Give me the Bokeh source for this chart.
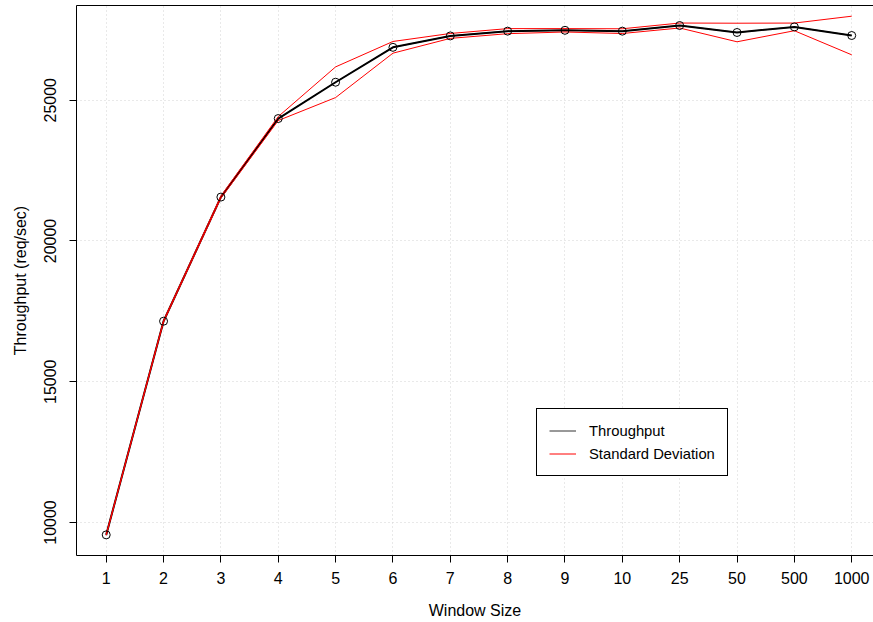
from bokeh.plotting import figure
from bokeh.models import FixedTicker, LinearAxis, Legend, LegendItem, Range1d
from bokeh.embed import file_html
from bokeh.resources import INLINE

# ---- data ----
window_sizes = ["1", "2", "3", "4", "5", "6", "7", "8", "9", "10", "25", "50", "500", "1000"]
throughput = [9560, 17150, 21560, 24350, 25640, 26880, 27285, 27455, 27485, 27455, 27655, 27407, 27606, 27300]
std_dev = [20, 30, 40, 70, 545, 208, 87, 90, 60, 84, 88, 330, 136, 686]
y_ticks = [10000, 15000, 20000, 25000]

x = list(range(1, len(window_sizes) + 1))
upper = [t + s for t, s in zip(throughput, std_dev)]
lower = [t - s for t, s in zip(throughput, std_dev)]

FONT = "Liberation Sans"

p = figure(width=873, height=622, output_backend="svg", toolbar_location=None,
           x_range=Range1d(0.482, 14.38), y_range=Range1d(8827, 28366),
           min_border_left=76, min_border_top=5, min_border_right=0, min_border_bottom=67)
p.outline_line_color = None
p.background_fill_color = "white"
p.border_fill_color = "white"

# axes
for ax in (p.xaxis[0], p.yaxis[0]):
    ax.axis_line_color = "black"
    ax.axis_line_width = 1
    ax.major_tick_line_color = "black"
    ax.major_tick_out = 7
    ax.major_tick_in = 0
    ax.minor_tick_line_color = None
    ax.major_label_text_font = FONT
    ax.major_label_text_font_size = "16px"
    ax.major_label_text_color = "black"
    ax.axis_label_text_font = FONT
    ax.axis_label_text_font_size = "16px"
    ax.axis_label_text_font_style = "normal"
    ax.axis_label_text_color = "black"

p.xaxis.ticker = FixedTicker(ticks=x)
p.xaxis.major_label_overrides = {i: lab for i, lab in zip(x, window_sizes)}
p.xaxis.axis_label = "Window Size"
p.xaxis.major_label_standoff = 9
p.xaxis.axis_label_standoff = 15

p.yaxis.ticker = FixedTicker(ticks=y_ticks)
p.yaxis.major_label_orientation = "vertical"
p.yaxis.axis_label = "Throughput (req/sec)"
p.yaxis.major_label_standoff = 13
p.yaxis.axis_label_standoff = 13

top_axis = LinearAxis(ticker=FixedTicker(ticks=[]), axis_line_color="black",
                      major_tick_line_color=None, minor_tick_line_color=None,
                      major_label_text_font_size="0px", major_tick_out=0,
                      major_label_standoff=0)
p.add_layout(top_axis, "above")

# grid
p.xgrid.ticker = FixedTicker(ticks=x)
p.ygrid.ticker = FixedTicker(ticks=y_ticks)
p.grid.grid_line_color = "#D3D3D3"
p.grid.grid_line_dash = "1 3"
p.grid.grid_line_width = 1

# data
r_thin = p.line(x, throughput, line_color="#333333", line_width=1)
p.line(x, throughput, line_color="black", line_width=2)
r_up = p.line(x, upper, line_color="red", line_width=1)
p.line(x, lower, line_color="red", line_width=1)
p.scatter(x, throughput, marker="circle", size=8, fill_color=None,
          line_color="black", line_width=1)

legend = Legend(items=[LegendItem(label="Throughput", renderers=[r_thin]),
                       LegendItem(label="Standard Deviation", renderers=[r_up])],
                location=(460, 79), border_line_color="black", border_line_width=1,
                border_line_alpha=1, background_fill_color="white", background_fill_alpha=1,
                padding=12, spacing=4, margin=0, glyph_width=27, glyph_height=19,
                label_height=19, label_standoff=13, label_text_font=FONT,
                label_text_font_size="14.8px", label_text_color="black")
p.add_layout(legend)

open("out.html", "w").write(file_html(p, INLINE))
